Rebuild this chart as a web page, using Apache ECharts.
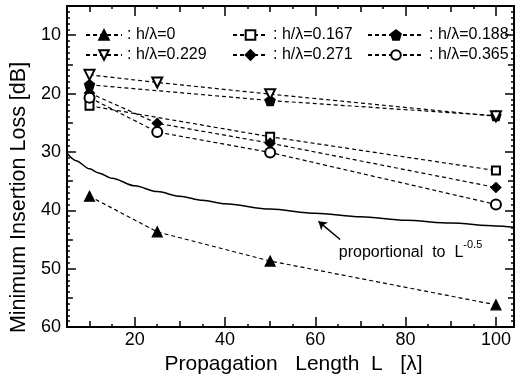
<!DOCTYPE html>
<html><head><meta charset="utf-8">
<script src="https://cdn.jsdelivr.net/npm/echarts@6/dist/echarts.min.js"></script>
<style>html,body{margin:0;padding:0;background:#fff}#c{width:517px;height:381px}</style>
</head><body><div id="c"></div>
<script>
// ---- data ----
const L4 = [10, 25, 50, 100];
const L3 = [10, 50, 100];
const h0   = [37.6, 43.7, 48.7, 56.2];
const h167 = [22.1, 27.4, 33.2];
const h188 = [18.5, 21.2, 23.8];
const h229 = [16.8, 18.1, 20.1, 23.9];
const h271 = [19.9, 25.1, 28.5, 36.1];
const h365 = [20.7, 26.6, 30.1, 39.0];
const curveL    = [5, 7, 10, 12, 15, 20, 25, 30, 35, 40, 50, 60, 70, 80, 90, 100, 104];
const curveLoss = [30.2, 31.5, 32.9, 33.6, 34.5, 35.8, 36.8, 37.6, 38.3, 38.9, 39.8, 40.5, 41.1, 41.7, 42.2, 42.7, 42.9];
const xMajor = [20, 40, 60, 80, 100];
const xMed   = [10, 30, 50, 70, 90];
const xMinor = [15, 25, 35, 45, 55, 65, 75, 85, 95];
const yMajor = [10, 20, 30, 40, 50, 60];
const yMed   = [15, 25, 35, 45, 55];
const yMinor = [];
for (let v = 6; v < 60; v++) if (v % 5 !== 0) yMinor.push(v);
const names = ['h/λ=0', 'h/λ=0.167', 'h/λ=0.188', 'h/λ=0.229', 'h/λ=0.271', 'h/λ=0.365'];

const FONT = "'Liberation Sans', Arial, Helvetica, sans-serif";
const BLACK = '#000';
const zip = (xs, ys) => xs.map((x, i) => [x, ys[i]]);
const pentagon = 'path://M0,-10 L9.5,-3.1 L5.9,8.1 L-5.9,8.1 L-9.5,-3.1 Z';

function xAx(pos, vals, len, line, extra) {
  return Object.assign({
    type: 'value', position: pos, min: 5, max: 104,
    axisLine: { show: line, onZero: false, lineStyle: { color: BLACK, width: 2 } },
    axisTick: { show: true, inside: true, length: len, customValues: vals, lineStyle: { color: BLACK, width: 1.5 } },
    axisLabel: { show: false }, splitLine: { show: false }
  }, extra || {});
}
function yAx(pos, vals, len, line, extra) {
  return Object.assign({
    type: 'value', position: pos, min: 5, max: 60, inverse: true,
    axisLine: { show: line, onZero: false, lineStyle: { color: BLACK, width: 2 } },
    axisTick: { show: true, inside: true, length: len, customValues: vals, lineStyle: { color: BLACK, width: 1.5 } },
    axisLabel: { show: false }, splitLine: { show: false }
  }, extra || {});
}

const dash = { color: BLACK, width: 1.2, type: [4, 3] };
function ser(name, xs, ys, symbol, size, rotate) {
  return {
    name, type: 'line', data: zip(xs, ys), symbol, symbolSize: size, symbolRotate: rotate || 0,
    showAllSymbol: true, lineStyle: dash,
    itemStyle: { color: BLACK, borderColor: BLACK, borderWidth: 1.2 },
    emphasis: { disabled: true }, z: 3
  };
}

const legendBase = {
  orient: 'vertical', top: 22, itemHeight: 12, itemGap: 4,
  selectedMode: false, formatter: ': {name}',
  textStyle: { fontSize: 16, color: BLACK, fontFamily: FONT }
};

const chart = echarts.init(document.getElementById('c'), null, { renderer: 'canvas' });
chart.setOption({
  animation: false,
  backgroundColor: '#fff',
  textStyle: { fontFamily: FONT },
  grid: { left: 65, right: 3, top: 6, bottom: 54, containLabel: false },
  legend: [
    Object.assign({ left: 80, itemWidth: 36, data: [names[0], names[3]] }, legendBase),
    Object.assign({ left: 227, itemWidth: 35, data: [names[1], names[4]] }, legendBase),
    Object.assign({ left: 362, itemWidth: 56, data: [names[2], names[5]] }, legendBase)
  ],
  xAxis: [
    xAx('bottom', xMajor, 10, true, {
      axisLabel: { show: true, customValues: xMajor, margin: 4, fontSize: 18, color: BLACK, fontFamily: FONT },
      name: 'Propagation\u00a0\u00a0\u00a0Length\u00a0\u00a0L\u00a0\u00a0\u00a0[λ]', nameLocation: 'middle', nameGap: 19,
      nameTextStyle: { fontSize: 21, color: BLACK, fontFamily: FONT, padding: [0, 0, 0, 6] }
    }),
    xAx('bottom', xMed, 6, false),
    xAx('bottom', xMinor, 3, false),
    xAx('top', xMajor, 10, true),
    xAx('top', xMed, 6, false),
    xAx('top', xMinor, 3, false)
  ],
  yAxis: [
    yAx('left', yMajor, 9, true, {
      axisLabel: { show: true, customValues: yMajor, margin: 6, fontSize: 18, color: BLACK, fontFamily: FONT },
      name: 'Minimum Insertion Loss [dB]', nameLocation: 'middle', nameGap: 33,
      nameTextStyle: { fontSize: 21.5, color: BLACK, fontFamily: FONT, padding: [0, 62, 0, 0] }
    }),
    yAx('left', yMed, 6, false),
    yAx('left', yMinor, 3, false),
    yAx('right', yMajor, 9, true),
    yAx('right', yMed, 6, false),
    yAx('right', yMinor, 3, false)
  ],
  series: [
    ser(names[0], L4, h0, 'triangle', 10),
    ser(names[1], L3, h167, 'emptyRect', 8),
    ser(names[2], L3, h188, pentagon, 10),
    ser(names[3], L4, h229, 'emptyTriangle', 10, 180),
    ser(names[4], L4, h271, 'diamond', 10),
    ser(names[5], L4, h365, 'emptyCircle', 10),
    {
      name: 'curve', type: 'line', data: zip(curveL, curveLoss), symbol: 'none',
      smooth: 0.3, smoothMonotone: 'x',
      lineStyle: { color: BLACK, width: 1.5, type: 'solid' }, emphasis: { disabled: true }, z: 2,
      markLine: {
        silent: true, symbol: ['none', 'arrow'], symbolSize: 8, label: { show: false },
        lineStyle: { color: BLACK, width: 1.5, type: 'solid' },
        data: [[{ coord: [65.5, 45.0] }, { coord: [60.7, 41.9] }]]
      },
      markPoint: {
        silent: true, symbol: 'circle', symbolSize: 0,
        data: [{ coord: [65.2, 47.25] }],
        label: {
          show: true, position: 'inside', align: 'left', verticalAlign: 'middle',
          formatter: '{a|proportional\u00a0\u00a0to\u00a0\u00a0L}{b|-0.5}',
          rich: {
            a: { fontSize: 16, color: BLACK, fontFamily: FONT, lineHeight: 26, verticalAlign: 'middle' },
            b: { fontSize: 11, color: BLACK, fontFamily: FONT, lineHeight: 11, verticalAlign: 'top' }
          }
        }
      }
    }
  ]
});
</script></body></html>
